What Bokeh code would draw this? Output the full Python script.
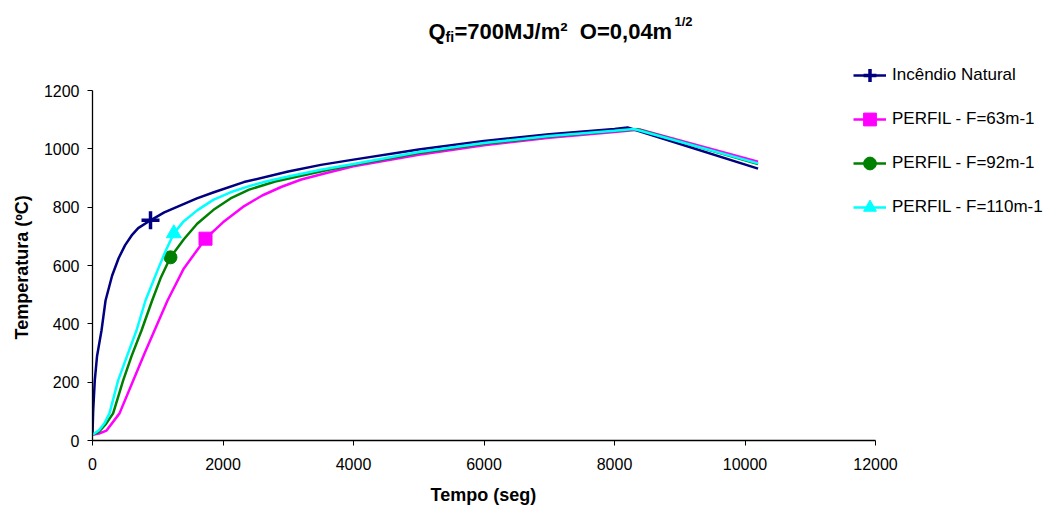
from bokeh.plotting import figure
from bokeh.models import Legend, LegendItem, Label, Range1d, FixedTicker, Title
from bokeh.embed import file_html
from bokeh.resources import INLINE

# ---- data ----
natural_t = [0, 10, 35, 70, 138, 200, 300, 400, 500, 600, 700, 889, 1100, 1350, 1600, 1860, 2320,
             3000, 3500, 4000, 5000, 6000, 7000, 8000, 8200, 10200]
natural_T = [20, 100, 206, 290, 377, 480, 565, 625, 670, 703, 728, 755, 782, 806, 830, 851, 886,
             922, 945, 963, 998, 1027, 1050, 1068, 1073, 932]

f63_t = [0, 100, 215, 414, 624, 800, 950, 1150, 1400, 1732, 2000, 2300, 2600, 2900, 3200, 3600,
         4000, 4500, 5000, 6000, 7000, 8000, 8400, 10200]
f63_T = [20, 24, 34, 93, 206, 300, 377, 480, 590, 692, 748, 800, 840, 870, 895, 918,
         940, 960, 980, 1012, 1038, 1058, 1066, 956]

f92_t = [0, 100, 200, 316, 470, 600, 751, 914, 1050, 1195, 1400, 1604, 1850, 2115, 2400, 2800,
         3200, 3600, 4000, 5000, 6000, 7000, 8000, 8350, 10200]
f92_T = [20, 30, 55, 93, 206, 290, 377, 480, 560, 628, 690, 743, 790, 830, 860, 888,
         908, 927, 945, 986, 1017, 1042, 1061, 1067, 948]

f110_t = [0, 100, 180, 260, 393, 530, 674, 812, 1000, 1120, 1246, 1400, 1604, 1850, 2115, 2400,
          2677, 3000, 3500, 4000, 5000, 6000, 7000, 8000, 8300, 10200]
f110_T = [20, 35, 58, 93, 206, 290, 377, 480, 585, 650, 710, 752, 789, 825, 851, 872,
          889, 905, 928, 948, 989, 1020, 1044, 1062, 1068, 950]

# index of the single marker drawn on each series
marker_idx = {"natural": 11, "f63": 9, "f92": 9, "f110": 10}

series_labels = ["Incêndio Natural", "PERFIL - F=63m-1", "PERFIL - F=92m-1", "PERFIL - F=110m-1"]
x_ticks = [0, 2000, 4000, 6000, 8000, 10000, 12000]
y_ticks = [0, 200, 400, 600, 800, 1000, 1200]
x_max, y_max = 12000, 1200
x_title, y_title = "Tempo (seg)", "Temperatura (ºC)"

FONT = "Liberation Sans"

W, H = 1060, 518
BL, BR, BT, BB = 92, 5, 5, 78
AXIS_W, AXIS_H = 783, 350          # pixel length of the drawn axes
FW, FH = W - BL - BR, H - BT - BB   # frame size (extends past the axes for title/legend)

p = figure(width=W, height=H, output_backend="svg", toolbar_location=None,
           x_range=Range1d(0, x_max * FW / AXIS_W), y_range=Range1d(0, y_max * FH / AXIS_H),
           min_border_left=BL, min_border_right=BR, min_border_top=BT, min_border_bottom=BB)
p.outline_line_color = None
p.grid.visible = False
p.background_fill_color = "white"

for ax in (p.xaxis[0], p.yaxis[0]):
    ax.axis_line_color = "black"
    ax.axis_line_width = 1.3
    ax.major_tick_line_color = "black"
    ax.major_tick_in = 0
    ax.major_tick_out = 5
    ax.minor_tick_line_color = None
    ax.major_label_text_font = FONT
    ax.major_label_text_font_size = "16px"
    ax.major_label_text_color = "black"

p.xaxis.bounds = (0, x_max)
p.yaxis.bounds = (0, y_max)
p.xaxis.ticker = FixedTicker(ticks=x_ticks)
p.yaxis.ticker = FixedTicker(ticks=y_ticks)
p.xaxis.major_label_standoff = 12
p.yaxis.major_label_standoff = 8

# axis titles, positioned along the drawn (bounded) axes
p.add_layout(Title(text=x_title, align="left", offset=430 - BL, standoff=21,
                   text_font=FONT, text_font_size="18px", text_font_style="bold",
                   text_color="black"), "below")
p.add_layout(Title(text=y_title, align="left", offset=440 - 339 - (H - BB - 440), standoff=17,
                   text_font=FONT, text_font_size="18px", text_font_style="bold",
                   text_color="black"), "left")

specs = [
    (natural_t, natural_T, "#000080", "cross", 18, marker_idx["natural"]),
    (f63_t, f63_T, "#FF00FF", "square", 13, marker_idx["f63"]),
    (f92_t, f92_T, "#008000", "circle", 13, marker_idx["f92"]),
    (f110_t, f110_T, "#00FFFF", "triangle", 15, marker_idx["f110"]),
]

items = []
for (t, T, col, mk, sz, mi), lab in zip(specs, series_labels):
    lr = p.line(t, T, line_color=col, line_width=2.5)
    if mk == "cross":
        mr = p.scatter([t[mi]], [T[mi]], marker=mk, size=sz, line_color=col, line_width=3.5)
    else:
        mr = p.scatter([t[mi]], [T[mi]], marker=mk, size=sz, fill_color=col, line_color=col)
    items.append(LegendItem(label=lab, renderers=[lr, mr]))

legend = Legend(items=items, location=(761, 217),
                label_text_font=FONT, label_text_font_size="17px", label_text_color="black",
                glyph_width=33, glyph_height=32, label_height=20, spacing=12,
                padding=0, margin=0, label_standoff=6,
                border_line_color=None, background_fill_alpha=0)
p.add_layout(legend)

# chart title with subscript/superscript pieces (screen units relative to frame)
title_parts = [
    ("Q", 336, 409, "22px"),
    ("fi", 353, 404, "14px"),
    ("=700MJ/m²\u00a0\u00a0O=0,04m", 362, 409, "22px"),
    ("1/2", 582, 419, "13px"),
]
for txt, sx, sy, fs in title_parts:
    p.add_layout(Label(x=sx, y=sy, x_units="screen", y_units="screen", text=txt,
                       text_font=FONT, text_font_style="bold", text_font_size=fs,
                       text_color="black", text_baseline="alphabetic", text_align="left"))

open("out.html", "w").write(file_html(p, INLINE))
